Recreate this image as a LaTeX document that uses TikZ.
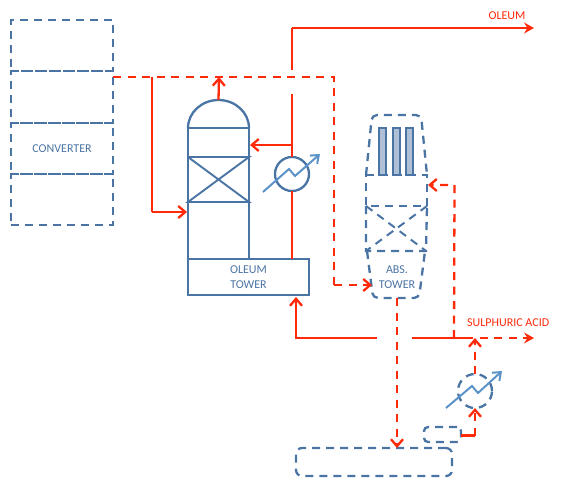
\documentclass[tikz,border=0pt]{standalone}
\usepackage{fontspec}
\setmainfont{Carlito}
\usetikzlibrary{arrows.meta}
\definecolor{rd}{HTML}{FF2A0A}
\definecolor{bl}{HTML}{4A74A3}
\definecolor{lb}{HTML}{5B93C9}
\tikzset{
  dsh/.style={dash pattern=on 8pt off 6pt},
  blueline/.style={draw=bl,line width=2.3pt},
  bluedash/.style={blueline,dsh},
  redline/.style={draw=rd,line width=2.3pt},
  reddash/.style={redline,dash pattern=on 8pt off 6.5pt},
  barb/.style={-{Straight Barb[length=7pt,width=12pt,line width=2.3pt]}},
  sharp/.style={-{Stealth[length=10pt,width=11pt,inset=3.5pt]}},
  box/.style={rectangle,minimum width=#1,inner sep=0pt,outer sep=0pt},
  hx/.style={circle,minimum size=34pt,inner sep=0pt,outer sep=0pt},
  hxarrow/.style={draw=lb,line width=2pt,line join=miter,-{Straight Barb[length=7pt,width=11pt,line width=2pt]}},
  lab/.style={text=bl,font=\fontsize{12pt}{14.5pt}\selectfont,align=center,inner sep=0pt},
  redlab/.style={text=rd,font=\fontsize{12pt}{14pt}\selectfont,inner sep=0pt},
  packed/.style={draw=bl,line width=2pt,fill=bl!45!white}
}
\begin{document}
\begin{tikzpicture}[x=1pt,y=-1pt]
\useasboundingbox (0,0) rectangle (561,479);
% converter
\node[box=102pt,minimum height=51pt,bluedash,draw] (c1) at (62,45.5) {};
\node[box=102pt,minimum height=52pt,bluedash,draw] (c2) at (62,97) {};
\node[box=102pt,minimum height=51pt,bluedash,draw,lab] (c3) at (62,148.5) {CONVERTER};
\node[box=102pt,minimum height=51pt,bluedash,draw] (c4) at (62,199.5) {};
% oleum tower
\node[box=121pt,minimum height=36pt,blueline,draw,lab] (ot) at (248.5,277) {OLEUM\\TOWER};
\coordinate (tl) at (188,259); \coordinate (tr) at (249,259);
\coordinate (dl) at (188,128); \coordinate (dr) at (249,128);
\coordinate (dtop) at (218.5,100);
\coordinate (xt1) at (188,157); \coordinate (xt2) at (249,157);
\coordinate (xb1) at (188,202); \coordinate (xb2) at (249,202);
\draw[blueline] (tl) -- (dl) -- (dr) -- (tr);
\draw[blueline] (dl) arc[start angle=180,end angle=0,x radius=30.5pt,y radius=28pt];
\draw[blueline,line width=1.9pt] (xt1) -- (xt2) -- (xb1) -- (xb2) -- (xt1);
% HX 1
\node[hx,blueline,draw] (h1) at (292,174) {};
% abs tower
\draw[bluedash,rounded corners=5pt] (366,175) -- (372,115) -- (421,115) -- (427,175);
\coordinate (s1) at (366,175); \coordinate (s2) at (427,175);
\coordinate (s3) at (366,206); \coordinate (s4) at (427,206);
\coordinate (s5) at (366,251); \coordinate (s6) at (426,251);
\draw[bluedash] (s1) -- (s2) -- (s4) -- (s3) -- cycle;
\draw[bluedash] (s3) -- (s5) -- (s6) -- (s4);
\draw[bluedash,line width=2pt] (s3) -- (s6);
\draw[bluedash,line width=2pt] (s4) -- (s5);
\draw[bluedash,rounded corners=5pt] (367,251) -- (373,298) -- (419,298) -- (425,251);
\node[box=7pt,minimum height=47pt,packed] (p1) at (382.5,151.5) {};
\node[box=7pt,minimum height=47pt,packed] (p2) at (396,151.5) {};
\node[box=7pt,minimum height=47pt,packed] (p3) at (409.5,151.5) {};
\node[lab] (abs) at (397,277) {ABS.\\TOWER};
\coordinate (absbot) at (397,298);
% lower vessels
\node[box=156pt,minimum height=28pt,bluedash,draw,rounded corners=6pt] (drum) at (374,462) {};
\node[box=37pt,minimum height=15pt,bluedash,draw,rounded corners=4pt] (pump) at (442.5,434.5) {};
\node[hx,bluedash,draw] (h2) at (475,391) {};
% red lines
\coordinate (r1) at (113,77);
\coordinate (r2) at (152,77);
\coordinate (r3) at (219,77);
\coordinate (r4) at (334,77);
\coordinate (r5) at (334,285);
\coordinate (r6) at (372,285);
\draw[reddash] (r1) -- (r4) -- (r5);
\draw[reddash,barb] (r5) -- (r6);
\draw[redline] (r2) -- (152,212);
\coordinate (tin) at (187,212);
\draw[redline,barb] (152,212) -- (tin);
\draw[redline,barb] (dtop) -- (r3);
\draw[redline] (ot.north -| h1) -- (h1.south);
\coordinate (j1) at (292,145);
\draw[redline] (h1.north) -- (292,94);
\draw[redline,barb] (j1) -- (250,145);
\coordinate (ol1) at (292,70);
\coordinate (ol2) at (292,28);
\coordinate (ol3) at (534,28);
\draw[redline] (ol1) -- (ol2);
\draw[redline,sharp] (ol2) -- (ol3);
\node[redlab] (oleum) at (507,16) {OLEUM};
% acid loop
\coordinate (b1) at (296,338);
\coordinate (b2) at (377,338);
\coordinate (b3) at (412,338);
\coordinate (b4) at (465,338);
\coordinate (b5) at (534,338);
\coordinate (b6) at (454,338);
\draw[redline,barb] (b2) -- (b1) -- (296,297);
\draw[redline] (b3) -- (b4);
\draw[reddash,sharp] (b4) -- (b5);
\draw[reddash,barb] (b6) -- (454.5,185) -- (428,185);
\draw[reddash,barb] (absbot) -- (drum.north -| absbot);
\coordinate (p0) at (461,435.5);
\coordinate (p9) at (475,435.5);
\draw[redline] (p0) -- (p9);
\draw[reddash,barb] (p9) -- (h2.south);
\draw[reddash,barb] (h2.north) -- (475,338);
\node[redlab,anchor=west] (acid) at (467,323) {SULPHURIC ACID};
% HX arrows
\coordinate (ha1) at (263,192); \coordinate (ha2) at (320,154);
\draw[hxarrow] (ha1) -- (289,169) -- (295,176) -- (ha2);
\coordinate (hb1) at (446,408); \coordinate (hb2) at (502,371);
\draw[hxarrow] (hb1) -- (472,386) -- (478,393) -- (hb2);
\end{tikzpicture}
\end{document}
